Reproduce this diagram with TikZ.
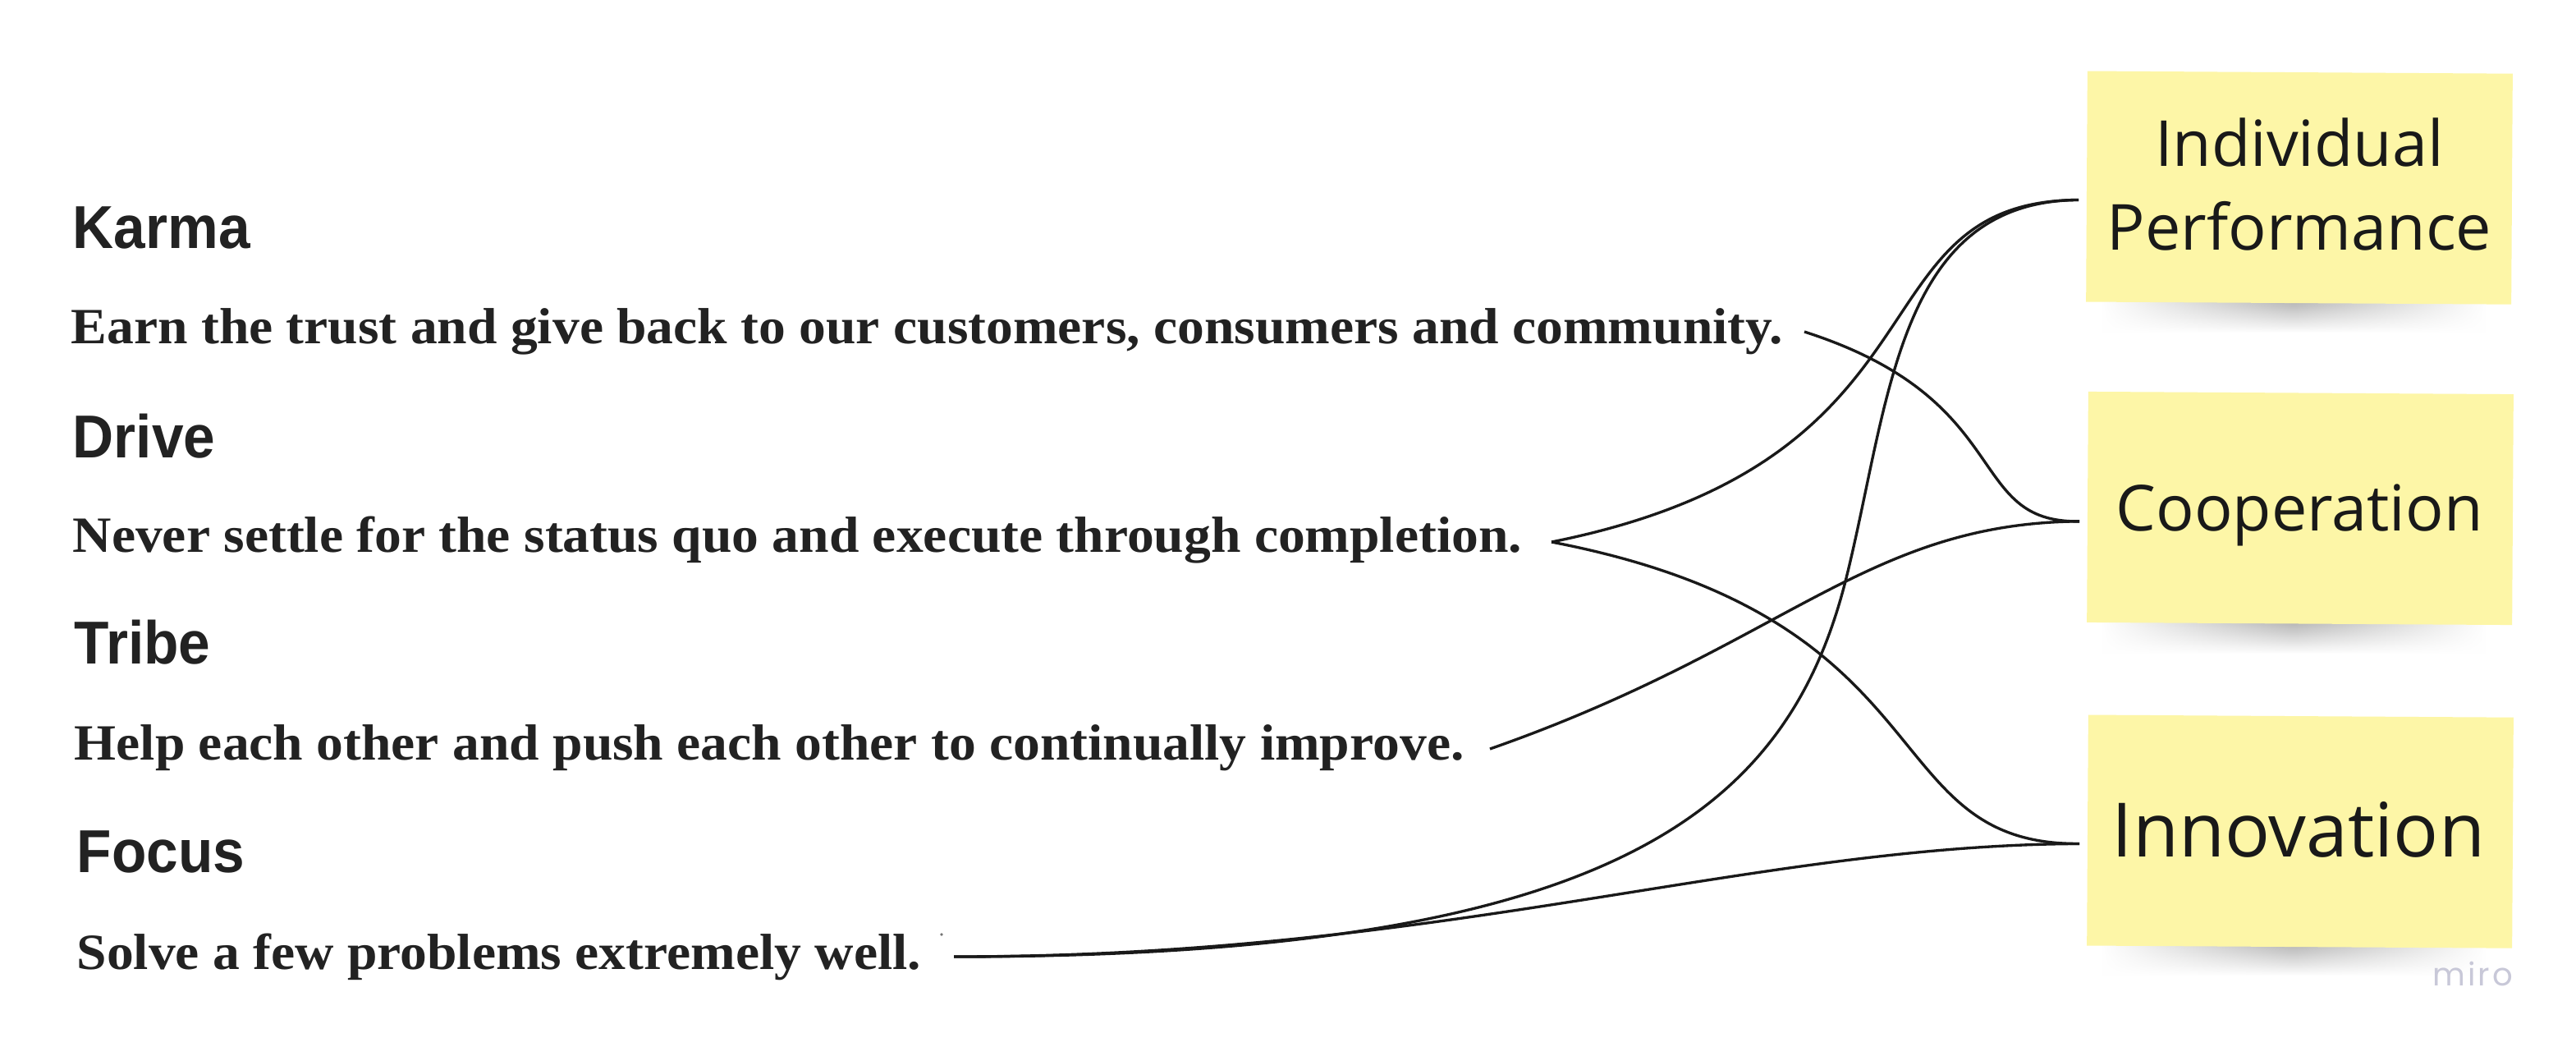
\documentclass[tikz,border=0pt]{standalone}
\usepackage{fontspec}
\setmainfont{Liberation Serif}
\newfontfamily\bodyfont[FakeStretch=1.06]{Liberation Serif}
\newfontfamily\headfont[FakeStretch=0.94]{Liberation Sans}
\newfontfamily\notefont{Open Sans}
\newfontfamily\mirofont[LetterSpace=8]{Poppins}
\usetikzlibrary{fadings}
\definecolor{ink}{HTML}{222222}
\definecolor{sticky}{HTML}{FDF6A7}
\definecolor{mirogray}{HTML}{C8C8D8}
\tikzfading[name=sidefade, left color=transparent!100, right color=transparent!100, middle color=transparent!0]
\begin{document}
\begin{tikzpicture}[x=0.2mm, y=-0.2mm,
  heading/.style={anchor=base west, inner sep=0pt, text=ink, font=\headfont\bfseries\fontsize{21pt}{24pt}\selectfont},
  body/.style={anchor=base west, inner sep=0pt, text=ink, font=\bodyfont\bfseries\fontsize{17.6pt}{20pt}\selectfont},
  note/.style={fill=sticky, minimum width=51.8mm, minimum height=28.1mm, inner sep=0pt, outer sep=1mm, rotate=-0.35},
  notetext/.style={anchor=base, inner sep=0pt, text=black!90, font=\notefont\fontsize{22pt}{29pt}\selectfont},
  bignotetext/.style={notetext, font=\notefont\fontsize{26pt}{30pt}\selectfont},
  link/.style={line width=0.95pt, draw=black!90},
  shadowband/.style={top color=black!30, bottom color=white, path fading=sidefade},
]
\useasboundingbox (0,0) rectangle (1569,637);
\fill[white] (0,0) rectangle (1569,637);

% shadows under the sticky notes
\foreach \cy in {184.6, 380, 576} {
  \shade[shadowband] (1280,\cy-2) rectangle (1514,\cy+18);
}

% sticky notes
\node[note] (ip) at (1400.5,114.3) {};
\node[note] (coop) at (1401,309.5) {};
\node[note] (inno) at (1401,506.3) {};
\node[notetext] (ipA) at (1400.5,101) {Individual};
\node[notetext] (ipB) at (1400.5,152) {Performance};
\node[notetext] (coopT) at (1400.5,323) {Cooperation};
\node[bignotetext] (innoT) at (1400,521.6) {Innovation};

% values text
\node[heading] (karma) at (44,151) {Karma};
\node[body] (karmaT) at (43,209) {Earn the trust and give back to our customers, consumers and community.};
\node[heading] (drive) at (44,278.5) {Drive};
\node[body] (driveT) at (44,336) {Never settle for the status quo and execute through completion.};
\node[heading] (tribe) at (45,404) {Tribe};
\node[body] (tribeT) at (45,462.5) {Help each other and push each other to continually improve.};
\node[heading] (focus) at (46.5,531) {Focus};
\node[body] (focusT) at (46.5,590) {Solve a few problems extremely well.};
\fill[black!55] (573.5,569) circle (0.9);

% connector end points
\coordinate (kOut) at (1099,202);
\coordinate (dOut) at (945,330);
\coordinate (tOut) at (907.5,456);
\coordinate (fOut) at (581,582.5);
\coordinate (ipIn) at ([yshift=-1.65mm]ip.west);
\coordinate (coopIn) at ([yshift=-1.75mm]coop.west);
\coordinate (innoIn) at ([yshift=-1.65mm]inno.west);

% connectors
\draw[link] (kOut) .. controls (1229,243.6) and (1196,318.5) .. (coopIn);
\draw[link] (dOut) .. controls (1195,280) and (1126,122.5) .. (ipIn);
\draw[link] (dOut) .. controls (1190,377) and (1140,514.5) .. (innoIn);
\draw[link] (tOut) .. controls (1087.5,393) and (1136,318.5) .. (coopIn);
\draw[link] (fOut) .. controls (981,582.5) and (1089.3,495.7) .. (1125,350)
               .. controls (1151.2,243.2) and (1156,122.5) .. (ipIn);
\draw[link] (fOut) .. controls (881,582.5) and (1066,514.5) .. (innoIn);

% watermark
\node[inner sep=0pt, text=mirogray, font=\mirofont\fontsize{11pt}{12pt}\selectfont] (miro) at (1506,593) {miro};
\end{tikzpicture}
\end{document}
